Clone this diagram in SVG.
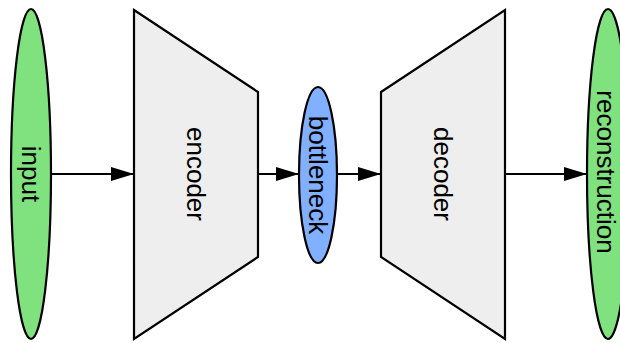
<svg xmlns="http://www.w3.org/2000/svg" width="620" height="343" viewBox="0 0 620 343">
<defs>
<style>
.lbl{font-family:"Liberation Sans",Arial,sans-serif;font-size:26px;fill:#000;text-anchor:middle;dominant-baseline:central}
.n{stroke:#000;stroke-width:2.2}
.trap{fill:#eeeeee}
.green{fill:#80e27e}
.blue{fill:#80b0ff}
.edge{stroke:#000;stroke-width:2;fill:none;marker-end:url(#ah)}
</style>
<marker id="ah" markerUnits="userSpaceOnUse" markerWidth="24" markerHeight="16" refX="23" refY="8" orient="auto">
<path d="M0,1 L23,8 L0,15 Z" fill="#000"/>
</marker>
</defs>
<g id="connectors">
<line class="edge" x1="51" y1="174" x2="134" y2="174"/>
<line class="edge" x1="258" y1="174" x2="299" y2="174"/>
<line class="edge" x1="337" y1="174" x2="381" y2="174"/>
<line class="edge" x1="505" y1="174" x2="587" y2="174"/>
</g>
<g id="input">
<ellipse class="n green" cx="31" cy="174" rx="20" ry="165"/>
<text class="lbl" transform="translate(31,174) rotate(90)">input</text>
</g>
<g id="encoder">
<polygon class="n trap" points="134,10 258,92 258,257 134,339"/>
<text class="lbl" transform="translate(196,174) rotate(90)">encoder</text>
</g>
<g id="bottleneck">
<ellipse class="n blue" cx="318" cy="175" rx="19" ry="88"/>
<text class="lbl" transform="translate(318,175) rotate(90)">bottleneck</text>
</g>
<g id="decoder">
<polygon class="n trap" points="381,92 505,10 505,339 381,257"/>
<text class="lbl" transform="translate(443,174) rotate(90)">decoder</text>
</g>
<g id="reconstruction">
<ellipse class="n green" cx="608" cy="174" rx="21" ry="165"/>
<text class="lbl" transform="translate(606,172) rotate(90)">reconstruction</text>
</g>
</svg>
